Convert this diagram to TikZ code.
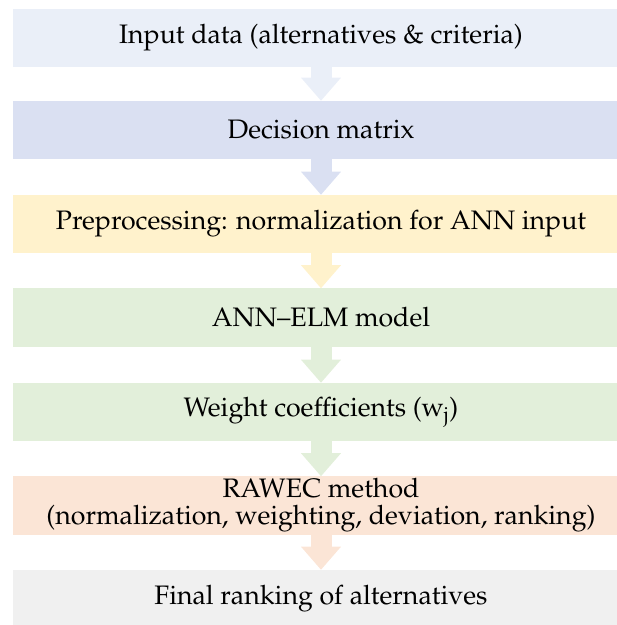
\documentclass[tikz,border=0pt]{standalone}
\usepackage[T1]{fontenc}
\usepackage{mathpazo}
\usepackage{tikz}
\usetikzlibrary{arrows.meta}
\definecolor{inputcol}{HTML}{EAEFF8}
\definecolor{matrixcol}{HTML}{DAE0F2}
\definecolor{prepcol}{HTML}{FFF2CC}
\definecolor{anncol}{HTML}{E2EFDA}
\definecolor{rawcol}{HTML}{FBE5D6}
\definecolor{finalcol}{HTML}{F0F0F0}
\tikzset{
  stage/.style={minimum width=15.4cm, minimum height=1.45cm, inner sep=0pt, align=center, font=\fontsize{19}{19.2}\selectfont},
  flow/.style={draw=#1, line width=0.525cm, -{Triangle[width=1cm,length=0.575cm,line width=0pt]}},
}

\begin{document}
\begin{tikzpicture}[x=0.025cm,y=-0.025cm]
\clip (0,0) rectangle (617,625);
\node[stage,fill=inputcol]  (input)   at (321,38)    {Input data (alternatives \& criteria)};
\node[stage,fill=matrixcol] (matrix)  at (321,130)   {Decision matrix};
\node[stage,fill=prepcol]   (prep)    at (321,224)   {Preprocessing: normalization for ANN input};
\node[stage,fill=anncol]    (ann)     at (321,317.5) {ANN--ELM model};
\node[stage,fill=anncol]    (weights) at (321,412)   {Weight coefficients (w\textsubscript{j})};
\node[stage,fill=rawcol]    (rawec)   at (321,505.5) {RAWEC method\\(normalization, weighting, deviation, ranking)};
\node[stage,fill=finalcol]  (final)   at (321,599)   {Final ranking of alternatives};
\draw[flow=inputcol]  (input) -- (matrix);
\draw[flow=matrixcol] (matrix) -- (prep);
\draw[flow=prepcol]   (prep) -- (ann);
\draw[flow=anncol]    (ann) -- (weights);
\draw[flow=anncol]    (weights) -- (rawec);
\draw[flow=rawcol]    (rawec) -- (final);
\end{tikzpicture}
\end{document}
